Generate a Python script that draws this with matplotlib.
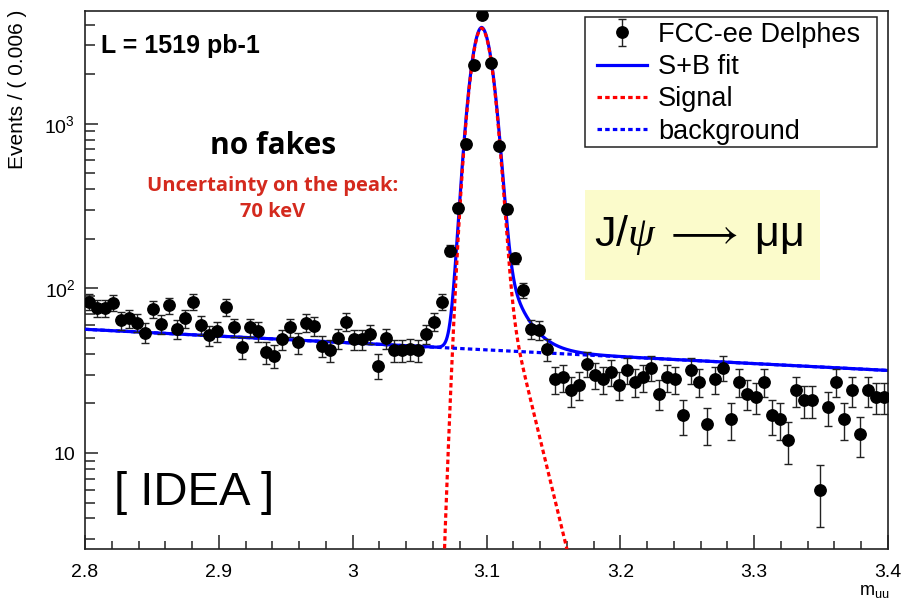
import numpy as np
import matplotlib
matplotlib.use("Agg")
import matplotlib.pyplot as plt
from matplotlib.patches import Rectangle
from matplotlib.ticker import FixedLocator, FuncFormatter, LogLocator, MultipleLocator

plt.rcParams['font.family'] = ['Liberation Sans', 'DejaVu Sans']
plt.rcParams['mathtext.fontset'] = 'custom'
plt.rcParams['mathtext.rm'] = 'Liberation Sans'
plt.rcParams['mathtext.it'] = 'Liberation Serif:italic'
plt.rcParams['mathtext.bf'] = 'Liberation Sans:bold'
plt.rcParams['mathtext.fallback'] = 'stix'

# binning of the dimuon mass histogram
m_lo = 2.8
m_hi = 3.4
n_bins = 100

# events per bin
counts = [83, 76, 76, 82, 64, 66, 62, 54, 75, 61,
          79, 57, 66, 83, 60, 52, 55, 77, 58, 44,
          58, 55, 41, 39, 49, 58, 47, 62, 59, 45,
          42, 50, 63, 49, 49, 53, 34, 50, 42, 42,
          43, 42, 53, 63, 83, 170, 307, 753, 2285, 4600,
          2340, 738, 303, 153, 98, 57, 56, 43, 28, 29,
          24, 26, 35, 30, 28, 31, 26, 32, 27, 29,
          33, 23, 29, 28, 17, 32, 27, 15, 28, 33,
          16, 27, 23, 22, 27, 17, 16, 12, 24, 21,
          21, 6, 19, 27, 16, 24, 13, 24, 22, 22]

# fit parameters (signal: gaussian core + one sided exponential tail, bkg: exponential)
sig_peak = 3820.0
sig_mu = 3.0965
sig_sigma = 0.0073
tail_frac = 0.10
tail_tau = 0.013
bkg_norm = 56.5
bkg_slope = -0.96

edges = np.linspace(m_lo, m_hi, n_bins + 1)
centers = 0.5 * (edges[1:] + edges[:-1])
n = np.array(counts, dtype=float)
err = np.sqrt(n)

def signal(x):
    g = np.exp(-0.5 * ((x - sig_mu) / sig_sigma) ** 2)
    t = np.where(x > sig_mu, np.exp(-(x - sig_mu) / tail_tau), g)
    return sig_peak / (1 + tail_frac) * (g + tail_frac * t)

def background(x):
    return bkg_norm * np.exp(bkg_slope * (x - m_lo))

xx = np.linspace(m_lo, m_hi, 3000)

fig = plt.figure(figsize=(9.01, 6.01), dpi=100)
ax = fig.add_axes([85 / 901, 1 - 549 / 601, 803 / 901, 538 / 601])

l_fit, = ax.plot(xx, signal(xx) + background(xx), color='#0000ff', lw=2.3, zorder=2)
l_sig, = ax.plot(xx, signal(xx), color='#ff0000', lw=2.3, ls=(0, (1.4, 1.0)), zorder=3)
l_bkg, = ax.plot(xx, background(xx), color='#0000ff', lw=2.3, ls=(0, (1.4, 1.0)), zorder=3)
h_data = ax.errorbar(centers, n, yerr=err, fmt='o', color='black', ms=8.2,
                     ecolor='#222222', elinewidth=1.0, capsize=2.6, capthick=1.0, zorder=4)

ax.set_yscale('log')
ax.set_xlim(m_lo, m_hi)
ax.set_ylim(2.61, 4860)

ax.xaxis.set_major_locator(MultipleLocator(0.1))
ax.xaxis.set_minor_locator(MultipleLocator(0.02))
ax.xaxis.set_major_formatter(FuncFormatter(lambda v, p: '%g' % round(v, 2)))
ax.yaxis.set_major_locator(FixedLocator([10, 100, 1000]))
ax.yaxis.set_minor_locator(LogLocator(base=10, subs=np.arange(2, 10)))
ax.yaxis.set_major_formatter(FuncFormatter(
    lambda v, p: '10' if v == 10 else r'$\mathregular{10^{%d}}$' % round(np.log10(v))))
ax.yaxis.set_minor_formatter(FuncFormatter(lambda v, p: ''))

ax.tick_params(axis='both', which='both', direction='in', top=False, right=False,
               width=1.1, color='#222222', labelsize=14)
ax.tick_params(axis='x', which='major', length=10, pad=11)
ax.tick_params(axis='x', which='minor', length=5.5)
ax.tick_params(axis='y', which='major', length=9, pad=7)
ax.tick_params(axis='y', which='minor', length=7)
for s in ax.spines.values():
    s.set_linewidth(1.2)
    s.set_color('#222222')

# axis titles placed like ROOT does (at the far ends of the axes)
fig.text(18 / 901, 1 - 10 / 601, 'Events / ( 0.006 )', rotation=90,
         fontsize=15, ha='center', va='top')
fig.text(889 / 901, 1 - 600 / 601, r'$\mathregular{m_{uu}}$', fontsize=13,
         ha='right', va='bottom')

ax.text(0.02, 0.935, 'L = 1519 pb-1', transform=ax.transAxes, fontsize=18,
        fontweight='bold', ha='left', va='center')
ax.text(0.234, 0.75, 'no fakes', transform=ax.transAxes, fontsize=21.5,
        family='Open Sans', fontweight='bold', ha='center', va='center')
ax.text(0.234, 0.651, 'Uncertainty on the peak:\n70 keV', transform=ax.transAxes,
        fontsize=14.5, family='Open Sans', fontweight='bold', color='#d42a1e',
        ha='center', va='center', linespacing=1.4)
ax.text(0.036, 0.105, '[ IDEA ]', transform=ax.transAxes, fontsize=34,
        ha='left', va='center')

ax.add_patch(Rectangle((0.6227, 0.5), 0.2926, 0.1673, transform=ax.transAxes,
                       facecolor='#fbfbcb', edgecolor='none', zorder=1))
ax.text(0.764, 0.5836, r'$\mathregular{J/}\psi\ \longrightarrow\ \mathregular{μμ}$',
        transform=ax.transAxes, fontsize=31, ha='center', va='center', zorder=5)

# legend box drawn separately so the padding matches the ROOT TLegend
ax.add_patch(Rectangle((0.6227, 0.7472), 0.3636, 0.2416, transform=ax.transAxes,
                       facecolor='white', edgecolor='#222222', lw=1.1, zorder=6))
leg = ax.legend([h_data, l_fit, l_sig, l_bkg],
                ['FCC-ee Delphes', 'S+B fit', 'Signal', 'background'],
                loc='upper left', bbox_to_anchor=(0.6376, 0.9796), fontsize=19.5,
                frameon=False, handlelength=1.85, handletextpad=0.4,
                labelspacing=0.23, borderpad=0, borderaxespad=0)
leg.set_zorder(7)

fig.savefig('out.png', dpi=100)
